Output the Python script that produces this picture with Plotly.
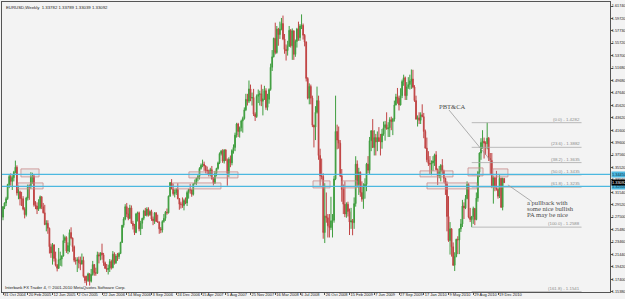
import pandas as pd
import plotly.graph_objects as go

START = "2004-10-31"

# weekly EURUSD bars: [open, high, low, close]
ohlc_2004 = [
    [1.2750, 1.2930, 1.2700, 1.2920], [1.2920, 1.2990, 1.2880, 1.2980], [1.2980, 1.3080, 1.2930, 1.3050],
    [1.3050, 1.3290, 1.3030, 1.3280], [1.3280, 1.3450, 1.3220, 1.3410], [1.3410, 1.3460, 1.3260, 1.3330],
    [1.3330, 1.3430, 1.3190, 1.3390], [1.3390, 1.3500, 1.3330, 1.3480], [1.3480, 1.3667, 1.3460, 1.3560],
]
ohlc_2005 = [
    [1.3560, 1.3590, 1.3100, 1.3140], [1.3140, 1.3260, 1.3040, 1.3160], [1.3160, 1.3180, 1.2940, 1.3050],
    [1.3050, 1.3160, 1.2930, 1.3050], [1.3050, 1.3090, 1.2860, 1.2880], [1.2880, 1.2910, 1.2730, 1.2790],
    [1.2790, 1.3080, 1.2760, 1.3060], [1.3060, 1.3280, 1.3020, 1.3260], [1.3260, 1.3280, 1.3030, 1.3240],
    [1.3240, 1.3480, 1.3210, 1.3410], [1.3410, 1.3470, 1.3290, 1.3420], [1.3420, 1.3430, 1.2920, 1.2950],
    [1.2950, 1.3010, 1.2880, 1.2930], [1.2930, 1.2990, 1.2800, 1.2880], [1.2880, 1.3040, 1.2850, 1.2900],
    [1.2900, 1.3100, 1.2880, 1.3080], [1.3080, 1.3090, 1.2880, 1.2920], [1.2920, 1.2980, 1.2810, 1.2820],
    [1.2820, 1.2950, 1.2620, 1.2630], [1.2630, 1.2700, 1.2520, 1.2650], [1.2650, 1.2700, 1.2480, 1.2570],
    [1.2570, 1.2580, 1.2160, 1.2270], [1.2270, 1.2320, 1.2090, 1.2170], [1.2170, 1.2330, 1.1980, 1.2300],
    [1.2300, 1.2310, 1.2030, 1.2080], [1.2080, 1.2190, 1.1950, 1.1970], [1.1970, 1.1990, 1.1870, 1.1920],
    [1.1920, 1.2250, 1.1910, 1.2060], [1.2060, 1.2190, 1.1960, 1.2070], [1.2070, 1.2130, 1.1950, 1.2120],
    [1.2120, 1.2470, 1.2110, 1.2370], [1.2370, 1.2450, 1.2330, 1.2420], [1.2420, 1.2440, 1.2170, 1.2200],
    [1.2200, 1.2340, 1.2150, 1.2290], [1.2290, 1.2550, 1.2180, 1.2500], [1.2500, 1.2585, 1.2390, 1.2410],
    [1.2410, 1.2420, 1.2190, 1.2270], [1.2270, 1.2290, 1.2020, 1.2050], [1.2050, 1.2100, 1.1980, 1.2040],
    [1.2040, 1.2100, 1.1860, 1.2060], [1.2060, 1.2110, 1.1920, 1.2010], [1.2010, 1.2110, 1.1890, 1.1990],
    [1.1990, 1.2160, 1.1980, 1.2050], [1.2050, 1.2110, 1.1770, 1.1790], [1.1790, 1.1800, 1.1680, 1.1720],
    [1.1720, 1.1800, 1.1640, 1.1720], [1.1720, 1.1850, 1.1700, 1.1830], [1.1830, 1.1840, 1.1640, 1.1710],
    [1.1710, 1.1910, 1.1690, 1.1820], [1.1820, 1.2040, 1.1800, 1.1980], [1.1980, 1.1990, 1.1800, 1.1850],
    [1.1850, 1.1930, 1.1800, 1.1840],
]
ohlc_2006 = [
    [1.1840, 1.2190, 1.1830, 1.2140], [1.2140, 1.2180, 1.2000, 1.2120], [1.2120, 1.2180, 1.2050, 1.2170],
    [1.2170, 1.2320, 1.2060, 1.2140], [1.2140, 1.2170, 1.1960, 1.2010], [1.2010, 1.2030, 1.1910, 1.1920],
    [1.1920, 1.1990, 1.1860, 1.1900], [1.1900, 1.1980, 1.1820, 1.1920], [1.1920, 1.2070, 1.1860, 1.2030],
    [1.2030, 1.2060, 1.1900, 1.1930], [1.1930, 1.2200, 1.1920, 1.2150], [1.2150, 1.2180, 1.1980, 1.2010],
    [1.2010, 1.2150, 1.1990, 1.2120], [1.2120, 1.2170, 1.2040, 1.2110], [1.2110, 1.2180, 1.2070, 1.2160],
    [1.2160, 1.2350, 1.2150, 1.2340], [1.2340, 1.2620, 1.2330, 1.2620], [1.2620, 1.2750, 1.2580, 1.2720],
    [1.2720, 1.2960, 1.2700, 1.2920], [1.2920, 1.2980, 1.2750, 1.2800], [1.2800, 1.2900, 1.2700, 1.2730],
    [1.2730, 1.2950, 1.2720, 1.2900], [1.2900, 1.2940, 1.2640, 1.2650], [1.2650, 1.2690, 1.2550, 1.2610],
    [1.2610, 1.2640, 1.2460, 1.2500], [1.2500, 1.2820, 1.2490, 1.2800], [1.2800, 1.2840, 1.2680, 1.2820],
    [1.2820, 1.2840, 1.2520, 1.2560], [1.2560, 1.2690, 1.2460, 1.2650], [1.2650, 1.2740, 1.2560, 1.2730],
    [1.2730, 1.2870, 1.2700, 1.2850], [1.2850, 1.2900, 1.2770, 1.2780], [1.2780, 1.2910, 1.2760, 1.2880],
    [1.2880, 1.2910, 1.2760, 1.2790], [1.2790, 1.2860, 1.2770, 1.2840], [1.2840, 1.2870, 1.2690, 1.2720],
    [1.2720, 1.2760, 1.2620, 1.2690], [1.2690, 1.2830, 1.2640, 1.2820], [1.2820, 1.2830, 1.2670, 1.2680],
    [1.2680, 1.2790, 1.2660, 1.2670], [1.2670, 1.2680, 1.2480, 1.2560], [1.2560, 1.2590, 1.2490, 1.2540],
    [1.2540, 1.2700, 1.2500, 1.2680], [1.2680, 1.2800, 1.2660, 1.2730], [1.2730, 1.2850, 1.2690, 1.2830],
    [1.2830, 1.2890, 1.2790, 1.2820], [1.2820, 1.3100, 1.2810, 1.3090], [1.3090, 1.3320, 1.3080, 1.3310],
    [1.3310, 1.3367, 1.3200, 1.3210], [1.3210, 1.3290, 1.3100, 1.3130], [1.3130, 1.3200, 1.3070, 1.3150],
    [1.3150, 1.3220, 1.3110, 1.3200],
]
ohlc_2007 = [
    [1.3200, 1.3300, 1.3040, 1.3050], [1.3050, 1.3060, 1.2870, 1.2960], [1.2960, 1.3000, 1.2890, 1.2960],
    [1.2960, 1.3070, 1.2900, 1.2940], [1.2940, 1.3050, 1.2860, 1.3020], [1.3020, 1.3070, 1.2960, 1.2980],
    [1.2980, 1.3180, 1.2930, 1.3150], [1.3150, 1.3210, 1.3050, 1.3200], [1.3200, 1.3290, 1.3130, 1.3190],
    [1.3190, 1.3200, 1.3080, 1.3120], [1.3120, 1.3300, 1.3100, 1.3290], [1.3290, 1.3360, 1.3280, 1.3300],
    [1.3300, 1.3390, 1.3270, 1.3380], [1.3380, 1.3440, 1.3330, 1.3410], [1.3410, 1.3560, 1.3360, 1.3540],
    [1.3540, 1.3620, 1.3520, 1.3590], [1.3590, 1.3682, 1.3560, 1.3610], [1.3610, 1.3650, 1.3500, 1.3580],
    [1.3580, 1.3590, 1.3460, 1.3510], [1.3510, 1.3570, 1.3440, 1.3500], [1.3500, 1.3520, 1.3410, 1.3450],
    [1.3450, 1.3550, 1.3410, 1.3520], [1.3520, 1.3580, 1.3360, 1.3370], [1.3370, 1.3400, 1.3265, 1.3300],
    [1.3300, 1.3500, 1.3290, 1.3460], [1.3460, 1.3550, 1.3410, 1.3540], [1.3540, 1.3650, 1.3520, 1.3630],
    [1.3630, 1.3800, 1.3610, 1.3780], [1.3780, 1.3840, 1.3750, 1.3820], [1.3820, 1.3852, 1.3630, 1.3660],
    [1.3660, 1.3850, 1.3620, 1.3840], [1.3840, 1.3850, 1.3660, 1.3670], [1.3670, 1.3700, 1.3260, 1.3460],
    [1.3460, 1.3720, 1.3400, 1.3690], [1.3690, 1.3750, 1.3560, 1.3630], [1.3630, 1.3850, 1.3590, 1.3830],
    [1.3830, 1.3930, 1.3780, 1.3880], [1.3880, 1.4120, 1.3820, 1.4080], [1.4080, 1.4280, 1.4040, 1.4260],
    [1.4260, 1.4280, 1.4050, 1.4140], [1.4140, 1.4220, 1.4040, 1.4200], [1.4200, 1.4330, 1.4140, 1.4310],
    [1.4310, 1.4380, 1.4120, 1.4350], [1.4350, 1.4530, 1.4330, 1.4490], [1.4490, 1.4750, 1.4470, 1.4660],
    [1.4660, 1.4750, 1.4560, 1.4630], [1.4630, 1.4966, 1.4600, 1.4830], [1.4830, 1.4900, 1.4630, 1.4680],
    [1.4680, 1.4770, 1.4560, 1.4690], [1.4690, 1.4830, 1.4390, 1.4420], [1.4420, 1.4450, 1.4310, 1.4380],
    [1.4380, 1.4740, 1.4360, 1.4710],
]
ohlc_2008 = [
    [1.4710, 1.4820, 1.4600, 1.4740], [1.4740, 1.4800, 1.4560, 1.4750], [1.4750, 1.4900, 1.4550, 1.4630],
    [1.4630, 1.4830, 1.4400, 1.4670], [1.4670, 1.4880, 1.4650, 1.4800], [1.4800, 1.4840, 1.4490, 1.4530],
    [1.4530, 1.4750, 1.4480, 1.4660], [1.4660, 1.4840, 1.4590, 1.4820], [1.4820, 1.5240, 1.4800, 1.5180],
    [1.5180, 1.5460, 1.5120, 1.5350], [1.5350, 1.5660, 1.5340, 1.5650], [1.5650, 1.5904, 1.5390, 1.5420],
    [1.5420, 1.5850, 1.5400, 1.5800], [1.5800, 1.5820, 1.5530, 1.5710], [1.5710, 1.5920, 1.5640, 1.5800],
    [1.5800, 1.5980, 1.5780, 1.5890], [1.5890, 1.6019, 1.5620, 1.5640], [1.5640, 1.5720, 1.5400, 1.5470],
    [1.5470, 1.5550, 1.5290, 1.5450], [1.5450, 1.5610, 1.5370, 1.5520], [1.5520, 1.5850, 1.5510, 1.5780],
    [1.5780, 1.5800, 1.5500, 1.5530], [1.5530, 1.5810, 1.5300, 1.5770], [1.5770, 1.5780, 1.5300, 1.5390],
    [1.5390, 1.5630, 1.5350, 1.5600], [1.5600, 1.5820, 1.5500, 1.5800], [1.5800, 1.5920, 1.5610, 1.5660],
    [1.5660, 1.5880, 1.5610, 1.5850], [1.5850, 1.6038, 1.5800, 1.5860], [1.5860, 1.5890, 1.5630, 1.5700],
    [1.5700, 1.5720, 1.5520, 1.5590], [1.5590, 1.5600, 1.4950, 1.5000], [1.5000, 1.5020, 1.4660, 1.4680],
    [1.4680, 1.4920, 1.4580, 1.4870], [1.4870, 1.4900, 1.4580, 1.4680], [1.4680, 1.4720, 1.4210, 1.4240],
    [1.4240, 1.4250, 1.3880, 1.4210], [1.4210, 1.4550, 1.4000, 1.4450], [1.4450, 1.4867, 1.4430, 1.4640],
    [1.4640, 1.4720, 1.3680, 1.3750], [1.3750, 1.3860, 1.3260, 1.3420], [1.3420, 1.3700, 1.3360, 1.3410],
    [1.3410, 1.3460, 1.2400, 1.2500], [1.2500, 1.3300, 1.2330, 1.2770], [1.2770, 1.3150, 1.2660, 1.2740],
    [1.2740, 1.2800, 1.2420, 1.2610], [1.2610, 1.2800, 1.2420, 1.2580], [1.2580, 1.3080, 1.2540, 1.2690],
    [1.2690, 1.2800, 1.2420, 1.2700], [1.2700, 1.3420, 1.2660, 1.3370], [1.3370, 1.4720, 1.3350, 1.4140],
    [1.4140, 1.4250, 1.3850, 1.4000], [1.4000, 1.4220, 1.3860, 1.3950],
]
ohlc_2009 = [
    [1.3950, 1.4000, 1.3400, 1.3420], [1.3420, 1.3530, 1.3000, 1.3200], [1.3200, 1.3280, 1.2800, 1.2960],
    [1.2960, 1.3330, 1.2750, 1.2800], [1.2800, 1.2990, 1.2740, 1.2960], [1.2960, 1.3000, 1.2760, 1.2840],
    [1.2840, 1.2890, 1.2460, 1.2670], [1.2670, 1.2900, 1.2560, 1.2690], [1.2690, 1.2720, 1.2456, 1.2660],
    [1.2660, 1.3070, 1.2560, 1.2970], [1.2970, 1.3738, 1.2920, 1.3610], [1.3610, 1.3670, 1.3230, 1.3280],
    [1.3280, 1.3550, 1.3110, 1.3480], [1.3480, 1.3490, 1.3080, 1.3150], [1.3150, 1.3330, 1.3000, 1.3040],
    [1.3040, 1.3300, 1.2885, 1.3250], [1.3250, 1.3380, 1.3050, 1.3280], [1.3280, 1.3630, 1.3170, 1.3610],
    [1.3610, 1.3740, 1.3460, 1.3510], [1.3510, 1.4050, 1.3450, 1.3990], [1.3990, 1.4160, 1.3820, 1.4150],
    [1.4150, 1.4340, 1.3870, 1.3880], [1.3880, 1.4160, 1.3750, 1.4040], [1.4040, 1.4100, 1.3750, 1.3970],
    [1.3970, 1.4140, 1.3820, 1.4040], [1.4040, 1.4210, 1.3970, 1.3980], [1.3980, 1.4100, 1.3750, 1.3970],
    [1.3970, 1.4180, 1.3860, 1.4100], [1.4100, 1.4300, 1.4070, 1.4200], [1.4200, 1.4310, 1.3990, 1.4250],
    [1.4250, 1.4450, 1.4170, 1.4180], [1.4180, 1.4290, 1.4050, 1.4200], [1.4200, 1.4370, 1.4050, 1.4330],
    [1.4330, 1.4380, 1.4160, 1.4300], [1.4300, 1.4360, 1.4080, 1.4340], [1.4340, 1.4640, 1.4300, 1.4570],
    [1.4570, 1.4750, 1.4560, 1.4700], [1.4700, 1.4845, 1.4590, 1.4680], [1.4680, 1.4720, 1.4480, 1.4570],
    [1.4570, 1.4840, 1.4560, 1.4720], [1.4720, 1.4980, 1.4680, 1.4950], [1.4950, 1.5060, 1.4880, 1.5010],
    [1.5010, 1.5030, 1.4650, 1.4720], [1.4720, 1.4940, 1.4650, 1.4860], [1.4860, 1.5020, 1.4830, 1.4900],
    [1.4900, 1.5060, 1.4820, 1.4960], [1.4960, 1.5145, 1.4830, 1.4990], [1.4990, 1.5140, 1.4840, 1.4860],
    [1.4860, 1.4890, 1.4620, 1.4640], [1.4640, 1.4720, 1.4330, 1.4340], [1.4340, 1.4400, 1.4220, 1.4360],
    [1.4360, 1.4450, 1.4260, 1.4320],
]
ohlc_2010 = [
    [1.4320, 1.4450, 1.4260, 1.4410], [1.4410, 1.4580, 1.4370, 1.4380], [1.4380, 1.4440, 1.4030, 1.4140],
    [1.4140, 1.4170, 1.3860, 1.3870], [1.3870, 1.4040, 1.3640, 1.3680], [1.3680, 1.3820, 1.3580, 1.3620],
    [1.3620, 1.3740, 1.3440, 1.3610], [1.3610, 1.3670, 1.3430, 1.3630], [1.3630, 1.3740, 1.3500, 1.3660],
    [1.3660, 1.3780, 1.3580, 1.3760], [1.3760, 1.3820, 1.3510, 1.3520], [1.3520, 1.3540, 1.3270, 1.3420],
    [1.3420, 1.3580, 1.3380, 1.3490], [1.3490, 1.3610, 1.3330, 1.3590], [1.3590, 1.3690, 1.3450, 1.3500],
    [1.3500, 1.3520, 1.3310, 1.3380], [1.3380, 1.3390, 1.3110, 1.3290], [1.3290, 1.3330, 1.2520, 1.2760],
    [1.2760, 1.3090, 1.2350, 1.2370], [1.2370, 1.2670, 1.2143, 1.2560], [1.2560, 1.2570, 1.2110, 1.2270],
    [1.2270, 1.2340, 1.1960, 1.1970], [1.1970, 1.2180, 1.1876, 1.2110], [1.2110, 1.2400, 1.2100, 1.2390],
    [1.2390, 1.2440, 1.2150, 1.2380], [1.2380, 1.2570, 1.2150, 1.2560], [1.2560, 1.2720, 1.2510, 1.2640],
    [1.2640, 1.3030, 1.2590, 1.2930], [1.2930, 1.2990, 1.2720, 1.2900], [1.2900, 1.3110, 1.2880, 1.3050],
    [1.3050, 1.3330, 1.3040, 1.3280], [1.3280, 1.3300, 1.2730, 1.2750], [1.2750, 1.2900, 1.2670, 1.2710],
    [1.2710, 1.2770, 1.2588, 1.2760], [1.2760, 1.2920, 1.2640, 1.2890], [1.2890, 1.2900, 1.2620, 1.2710],
    [1.2710, 1.3150, 1.2700, 1.3060], [1.3060, 1.3500, 1.3000, 1.3480], [1.3480, 1.3800, 1.3400, 1.3790],
    [1.3790, 1.4030, 1.3680, 1.3960], [1.3960, 1.4160, 1.3860, 1.3980], [1.3980, 1.4040, 1.3700, 1.3950],
    [1.3950, 1.3980, 1.3760, 1.3940], [1.3940, 1.4282, 1.3850, 1.4030], [1.4030, 1.4050, 1.3660, 1.3700],
    [1.3700, 1.3790, 1.3450, 1.3670], [1.3670, 1.3790, 1.3220, 1.3240], [1.3240, 1.3420, 1.2969, 1.3390],
    [1.3390, 1.3400, 1.3170, 1.3230], [1.3230, 1.3500, 1.3180, 1.3200], [1.3200, 1.3220, 1.3050, 1.3090],
    [1.3090, 1.3440, 1.3060, 1.3380],
]
ohlc_2011 = [
    [1.3380, 1.3390, 1.2900, 1.2910], [1.2910, 1.3390, 1.2860, 1.3378], [1.33782, 1.33789, 1.33039, 1.33092],
]

x_tick_labels = ["31 Oct 2004", "20 Feb 2005", "12 Jun 2005", "2 Oct 2005", "22 Jan 2006", "14 May 2006",
                 "3 Sep 2006", "24 Dec 2006", "15 Apr 2007", "5 Aug 2007", "25 Nov 2007", "16 Mar 2008",
                 "6 Jul 2008", "26 Oct 2008", "15 Feb 2009", "7 Jun 2009", "27 Sep 2009", "17 Jan 2010",
                 "9 May 2010", "29 Aug 2010", "19 Dec 2010"]
y_tick_labels = ["1.61740", "1.59720", "1.57730", "1.55720", "1.53700", "1.51680", "1.49680", "1.47640",
                 "1.45620", "1.43620", "1.41600", "1.39600", "1.37560", "1.35520", "1.33560", "1.31540",
                 "1.29520", "1.27500", "1.25480", "1.23460", "1.21440", "1.19420", "1.17400", "1.15380"]

hline_prices = [1.3445, 1.3250]
fib_ratios = [0.0, 23.6, 38.2, 50.0, 61.8, 100.0, 161.8]
fib_low_week, fib_high_week, fib_end_week = 303, 313, 374
# zones: (start week, end week, top price, bottom price)
zones = [(11.6, 23.3, 1.3532, 1.3403), (9.7, 25.9, 1.3305, 1.3208), (120.2, 151.9, 1.3484, 1.3386),
         (109.9, 140.9, 1.3305, 1.3208), (200.4, 211.4, 1.3338, 1.3224), (219.1, 228.8, 1.3338, 1.3224),
         (269.6, 290.9, 1.3500, 1.3403), (274.1, 306.4, 1.3305, 1.3208), (300.6, 310.3, 1.3548, 1.3419),
         (316.7, 326.4, 1.3532, 1.3403)]
# text notes: (text, week, price)
notes = [("PBT&CA", 290.9, 1.4537), ("a pullback with", 337.5, 1.2983),
         ("some nice bullish", 337.5, 1.2886), ("PA may be nice", 337.5, 1.2789)]
# leader lines: (week0, price0, week1, price1)
leaders = [(288.3, 1.4488, 315.4, 1.3662), (326.4, 1.3273, 342.0, 1.3001)]

rows = ohlc_2004 + ohlc_2005 + ohlc_2006 + ohlc_2007 + ohlc_2008 + ohlc_2009 + ohlc_2010 + ohlc_2011
for o, h, l, c in rows:
    assert h >= max(o, c) and l <= min(o, c), (o, h, l, c)
open_ = [r[0] for r in rows]
high = [r[1] for r in rows]
low = [r[2] for r in rows]
close = [r[3] for r in rows]
dates = pd.date_range(START, periods=len(rows), freq="7D")
t0 = pd.Timestamp(START)


def wk(w):
    return t0 + pd.Timedelta(days=7 * w)


GREEN = "#3f9e3f"
RED = "#c04444"
BLUE = "#4cb8e0"
FIB = "#ababab"

fig = go.Figure(go.Candlestick(
    x=dates, open=open_, high=high, low=low, close=close,
    increasing=dict(line=dict(color=GREEN, width=1), fillcolor=GREEN),
    decreasing=dict(line=dict(color=RED, width=1), fillcolor=RED),
    whiskerwidth=0, hoverinfo="skip", showlegend=False,
))

shapes = []
annotations = []

for w0, w1, top, bot in zones:
    shapes.append(dict(type="rect", xref="x", yref="y", x0=wk(w0), x1=wk(w1), y0=bot, y1=top,
                       line=dict(color="#c98a8a", width=0.8), fillcolor="rgba(185,185,185,0.18)", layer="above"))

fib_high = high[fib_high_week]
fib_low = low[fib_low_week]
for r in fib_ratios:
    p = fib_high - (fib_high - fib_low) * r / 100.0
    shapes.append(dict(type="line", xref="x", yref="y", x0=wk(fib_low_week), x1=wk(fib_end_week), y0=p, y1=p,
                       line=dict(color=FIB, width=0.8)))
    annotations.append(dict(xref="x", yref="y", x=wk(fib_end_week), y=p, xanchor="right", yanchor="bottom",
                            text=f"({r:.1f}) - {p:.4f}", showarrow=False,
                            font=dict(family="Liberation Sans", size=4.4, color="#8c8c8c"), yshift=-1))

for p in hline_prices:
    shapes.append(dict(type="line", xref="paper", yref="y", x0=0, x1=1, y0=p, y1=p,
                       line=dict(color=BLUE, width=1.3)))
    annotations.append(dict(xref="paper", yref="y", x=1, y=p, xanchor="left", yanchor="middle", xshift=1,
                            text=f"{p:.5f}", showarrow=False, bgcolor=BLUE, borderpad=0,
                            font=dict(family="Liberation Sans", size=3.9, color="#10324a")))

annotations.append(dict(xref="paper", yref="y", x=1, y=close[-1], xanchor="left", yanchor="middle", xshift=1,
                        text=f"{close[-1]:.5f}", showarrow=False, bgcolor="#000000", borderpad=0,
                        font=dict(family="Liberation Sans", size=3.9, color="#ffffff")))

for w0, p0, w1, p1 in leaders:
    shapes.append(dict(type="line", xref="x", yref="y", x0=wk(w0), y0=p0, x1=wk(w1), y1=p1,
                       line=dict(color="#9a9a9a", width=0.8)))

for text, w, p in notes:
    anchor = "center" if text == "PBT&CA" else "left"
    annotations.append(dict(xref="x", yref="y", x=wk(w), y=p, xanchor=anchor, yanchor="middle",
                            text=text, showarrow=False,
                            font=dict(family="Liberation Serif", size=6.6, color="#4a4a4a")))

annotations.append(dict(xref="paper", yref="paper", x=0.004, y=1, xanchor="left", yanchor="top", yshift=-1,
                        text=f"EURUSD,Weekly  {open_[-1]:.5f} {high[-1]:.5f} {low[-1]:.5f} {close[-1]:.5f}",
                        showarrow=False, font=dict(family="Liberation Sans", size=4.3, color="#222")))
annotations.append(dict(xref="paper", yref="paper", x=0.001, y=0, xanchor="left", yanchor="bottom", yshift=0,
                        text="Interbank FX Trader 4, © 2001-2010 MetaQuotes Software Corp.",
                        showarrow=False, font=dict(family="Liberation Sans", size=4.2, color="#222")))

fig.update_layout(
    width=625, height=299,
    margin=dict(l=2, r=15, t=2, b=7, autoexpand=False),
    paper_bgcolor="#f3f3f3", plot_bgcolor="#f3f3f3",
    shapes=shapes, annotations=annotations,
    xaxis=dict(type="date", range=[wk(-0.65), wk(392.4)], rangeslider=dict(visible=False),
               showgrid=False, zeroline=False, showline=True, mirror=True, linecolor="#555", linewidth=1,
               ticks="outside", ticklen=2, tickcolor="#555", ticklabelstandoff=-2, tickangle=0,
               tickvals=[pd.to_datetime(s, format="%d %b %Y") for s in x_tick_labels], ticktext=x_tick_labels,
               ticklabelposition="outside right", automargin=False,
               tickfont=dict(family="Liberation Sans", size=4.0, color="#222")),
    yaxis=dict(side="right", range=[1.1536, 1.6239], showgrid=False, zeroline=False,
               showline=True, mirror=True, linecolor="#555", linewidth=1,
               ticks="outside", ticklen=2, tickcolor="#555", ticklabelstandoff=-2,
               tickvals=[float(s) for s in y_tick_labels], ticktext=y_tick_labels, automargin=False,
               tickfont=dict(family="Liberation Sans", size=3.8, color="#222")),
)

fig.write_html("out.html")
